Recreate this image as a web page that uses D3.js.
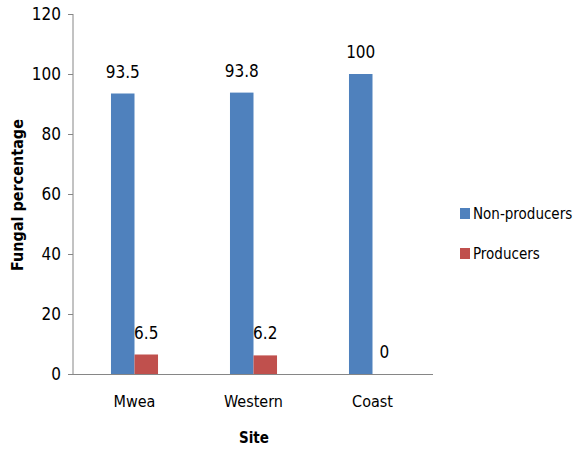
<!DOCTYPE html>
<html>
<head>
<meta charset="utf-8">
<script src="https://cdn.jsdelivr.net/npm/d3@7"></script>
<style>
  body { margin: 0; background: #fff; }
  svg text { font-family: "DejaVu Sans Condensed", "DejaVu Sans", sans-serif; font-stretch: condensed; fill: #000; }
</style>
</head>
<body>
<svg id="chart" width="577" height="450"></svg>
<script>
const sites = ["Mwea", "Western", "Coast"];
const seriesNames = ["Non-producers", "Producers"];
const nonProducers = [93.5, 93.8, 100];
const producers = [6.5, 6.2, 0];
const yTicks = [0, 20, 40, 60, 80, 100, 120];
const colors = ["#4F81BD", "#C0504D"];

const svg = d3.select("#chart");

const x = d3.scaleBand().domain(sites).range([75, 432]).paddingInner(0).paddingOuter(0);
const xs = d3.scaleBand().domain(seriesNames).range([0, x.bandwidth()]).paddingInner(0).paddingOuter(1.53);
const y = d3.scaleLinear().domain([0, 120]).range([374, 14]);

const values = [nonProducers, producers];

// y axis
const yAxis = svg.append("g").attr("transform", "translate(73,0)")
  .call(d3.axisLeft(y).tickValues(yTicks).tickSize(5).tickPadding(7));
yAxis.selectAll("path, line").attr("stroke", "#868686");
yAxis.select(".domain").attr("d", `M0,${y(120)}V${y(0)}`);
yAxis.selectAll("text").attr("font-size", 17).attr("dy", "0.35em");

// bars and value labels
seriesNames.forEach((s, i) => {
  svg.append("g").selectAll("rect").data(sites).join("rect")
    .attr("x", d => x(d) + xs(s))
    .attr("width", xs.bandwidth())
    .attr("y", (d, j) => y(values[i][j]))
    .attr("height", (d, j) => y(0) - y(values[i][j]))
    .attr("fill", colors[i]);
  svg.append("g").selectAll("text").data(sites).join("text")
    .attr("x", d => x(d) + xs(s) + xs.bandwidth() / 2)
    .attr("y", (d, j) => y(values[i][j]) - 16)
    .attr("text-anchor", "middle")
    .attr("font-size", 17)
    .text((d, j) => values[i][j]);
});

// x axis
const xAxis = svg.append("g").attr("transform", `translate(0,${y(0)})`)
  .call(d3.axisBottom(x).tickSize(0).tickPadding(22));
xAxis.select(".domain").attr("stroke", "#868686").attr("d", "M73,0.5H433");
xAxis.selectAll("text").attr("font-size", 16).attr("dy", "0.71em");

// axis titles
svg.append("text")
  .attr("x", 254).attr("y", 443)
  .attr("text-anchor", "middle")
  .attr("font-size", 15).attr("font-weight", "bold")
  .text("Site");
svg.append("text")
  .attr("transform", "translate(23,195) rotate(-90)")
  .attr("text-anchor", "middle")
  .attr("font-size", 16).attr("font-weight", "bold")
  .text("Fungal percentage");

// legend
const legend = svg.append("g");
seriesNames.forEach((s, i) => {
  const ly = 214 + i * 40;
  legend.append("rect").attr("x", 460).attr("y", ly - 6).attr("width", 10).attr("height", 11).attr("fill", colors[i]);
  legend.append("text").attr("x", 473).attr("y", ly).attr("dy", "0.35em")
    .attr("font-size", 15).text(s);
});
</script>
</body>
</html>
